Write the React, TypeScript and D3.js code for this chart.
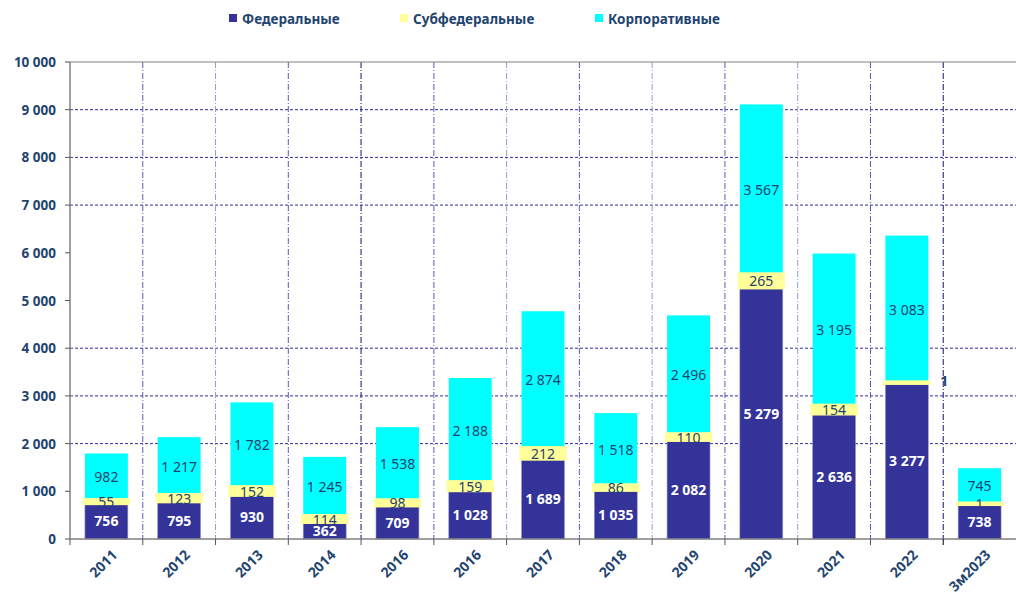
import React from 'react';
import { scaleBand, scaleLinear } from 'd3';

// chart data
const categories = ['2011', '2012', '2013', '2014', '2016', '2016', '2017', '2018', '2019', '2020', '2021', '2022', '3м2023'];
const federal = [756, 795, 930, 362, 709, 1028, 1689, 1035, 2082, 5279, 2636, 3277, 738];
const subfederal = [55, 123, 152, 114, 98, 159, 212, 86, 110, 265, 154, 1, 1];
const corporate = [982, 1217, 1782, 1245, 1538, 2188, 2874, 1518, 2496, 3567, 3195, 3083, 745];
const yTicks = [0, 1000, 2000, 3000, 4000, 5000, 6000, 7000, 8000, 9000, 10000];
// dashed horizontal grid lines only appear at these values
const gridValues = [2000, 3000, 4000, 7000, 8000, 9000];
const seriesNames = ['Федеральные', 'Субфедеральные', 'Корпоративные'];

const width = 1016;
const height = 596;
const left = 70;
const right = 1016;
const top = 62;
const bottom = 539;

const colors = ['#333399', '#FFFF99', '#00FFFF'];
const textColor = '#1F4470';
const font = "'Noto Sans', 'DejaVu Sans', sans-serif";

const fmt = (v: number) => String(v).replace(/\B(?=(\d{3})+(?!\d))/g, ' ');

const App = () => {
  const idx = categories.map((_, i) => i);
  const x = scaleBand<number>().domain(idx).range([left, right]).paddingInner(0.41).paddingOuter(0.205);
  const y = scaleLinear().domain([0, 10000]).range([bottom, top]);
  const step = x.step();
  const bw = x.bandwidth();

  const dividers = idx.slice(1).map((i) => left + i * step);

  return (
    <div style={{ position: 'absolute', left: 0, top: 0 }}>
      <svg width={width} height={height} style={{ display: 'block', background: '#fff' }}>
        {/* horizontal grid */}
        {gridValues.map((v) => (
          <line key={'g' + v} x1={left} x2={right} y1={y(v)} y2={y(v)} stroke="#2E2E9A" strokeWidth={1} strokeDasharray="3,2" />
        ))}
        {/* vertical category dividers */}
        {dividers.map((d, i) => (
          <line
            key={'v' + i}
            x1={d}
            x2={d}
            y1={top}
            y2={bottom}
            stroke={i === 3 || i === 11 ? '#10107A' : i % 2 === 0 ? '#5A5AB4' : '#9A9AD0'}
            strokeWidth={1}
            strokeDasharray="6,2,1,2"
          />
        ))}
        <line x1={left} x2={right} y1={top} y2={top} stroke="#808080" strokeWidth={1} />

        {/* bars */}
        {idx.map((i) => {
          const bx = x(i) as number;
          const f = federal[i];
          const s = subfederal[i];
          const c = corporate[i];
          return (
            <g key={'b' + i}>
              <rect x={bx} y={y(f)} width={bw} height={y(0) - y(f)} fill={colors[0]} stroke="#9999CC" strokeWidth={0.6} />
              <rect x={bx} y={y(f + s + c)} width={bw} height={y(f + s) - y(f + s + c)} fill={colors[2]} />
              <rect
                x={bx - 1.5}
                y={y(f + s) - 1.5}
                width={bw + 3}
                height={Math.max(y(f) - y(f + s), 0) + 3}
                fill={colors[1]}
                stroke={colors[1]}
                strokeWidth={1.5}
              />
            </g>
          );
        })}

        {/* data labels */}
        {idx.map((i) => {
          const cx = (x(i) as number) + bw / 2;
          const f = federal[i];
          const s = subfederal[i];
          const c = corporate[i];
          const outside = categories[i] === '2022';
          return (
            <g key={'l' + i} fontFamily={font} fontSize={14} textAnchor="middle" dominantBaseline="central">
              <text x={cx} y={y(f / 2)} fill="#fff" fontWeight="bold">{fmt(f)}</text>
              <text
                x={outside ? cx + bw / 2 + 16 : cx}
                y={outside ? y(f + s) - 2 : y(f + s / 2)}
                fill={textColor}
                fontWeight={outside ? 'bold' : 'normal'}
              >
                {fmt(s)}
              </text>
              <text x={cx} y={y(f + s + c / 2)} fill={textColor}>{fmt(c)}</text>
            </g>
          );
        })}

        {/* axes */}
        <line x1={left} x2={left} y1={top} y2={bottom} stroke="#808080" strokeWidth={1.5} />
        <line x1={left} x2={right} y1={bottom} y2={bottom} stroke="#808080" strokeWidth={1.5} />
        {yTicks.map((t) => (
          <g key={'t' + t}>
            <line x1={left - 5} x2={left} y1={y(t)} y2={y(t)} stroke="#555" />
            <text
              x={56}
              y={y(t)}
              textAnchor="end"
              dominantBaseline="central"
              fontFamily={font}
              fontSize={13.5}
              fontWeight="bold"
              fill={textColor}
            >
              {fmt(t)}
            </text>
          </g>
        ))}
        {[left, ...dividers].map((d, i) => (
          <line key={'xt' + i} x1={d} x2={d} y1={bottom} y2={bottom + 6} stroke={i === 12 ? '#000' : '#555'} />
        ))}
        {idx.map((i) => {
          const cx = (x(i) as number) + bw / 2;
          return (
            <text
              key={'xl' + i}
              transform={`translate(${cx + 8},${bottom + 13}) rotate(-45)`}
              textAnchor="end"
              dominantBaseline="central"
              fontFamily={font}
              fontSize={14}
              fontWeight="bold"
              fill={textColor}
            >
              {categories[i]}
            </text>
          );
        })}

        {/* legend */}
        {seriesNames.map((n, i) => {
          const lx = [229, 400, 595][i];
          return (
            <g key={'lg' + i}>
              <rect x={lx} y={14} width={8} height={8} fill={colors[i]} />
              <text x={lx + 13} y={18.5} dominantBaseline="central" fontFamily={font} fontSize={13.5} fontWeight="bold" fill={textColor}>
                {n}
              </text>
            </g>
          );
        })}
      </svg>
    </div>
  );
};

export default App;
